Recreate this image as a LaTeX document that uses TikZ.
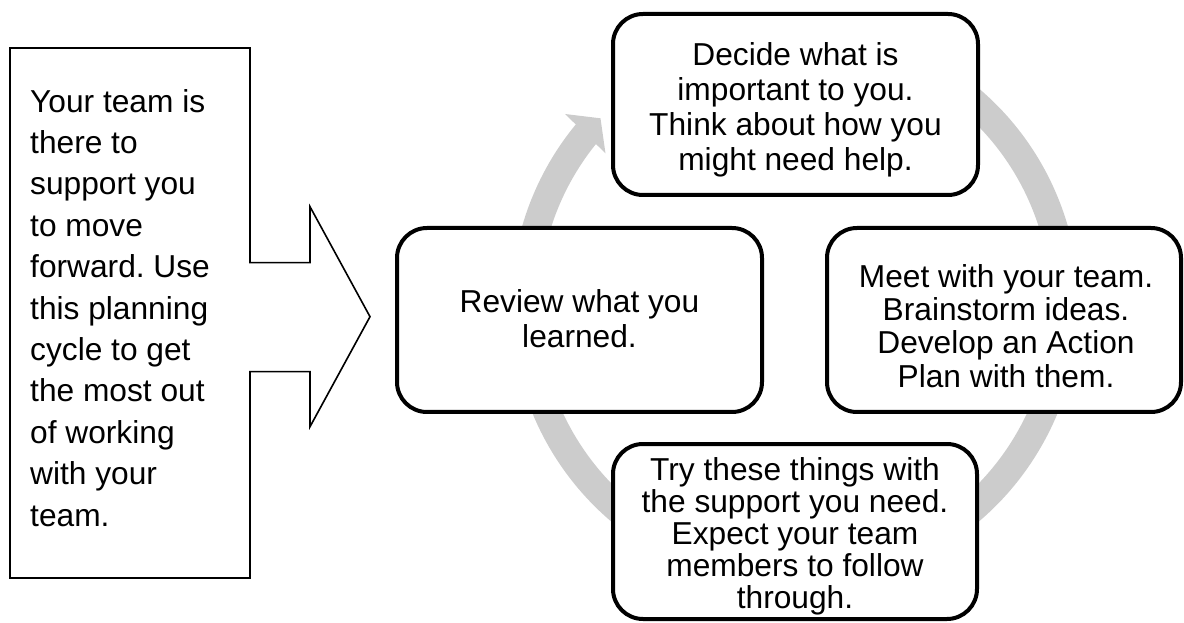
\documentclass[tikz,border=0pt]{standalone}
\usepackage{fontspec}
\setmainfont{Liberation Sans}
\definecolor{ringgray}{RGB}{204,204,204}
\frenchspacing
\begin{document}
\begin{tikzpicture}[x=1pt,y=1pt,
  cyclebox/.style={draw=black, line width=4pt, rounded corners=30pt, fill=white, inner sep=0pt},
  boxtext/.style={align=center, inner sep=0pt, anchor=north},
  ringarc/.style={draw=ringgray, line width=28pt},
  callout/.style={draw=black, line width=1.6pt, line join=miter}]
\useasboundingbox (0,0) rectangle (1184,622);

% grey cycle arrow
\coordinate (c) at (795,317);
\draw[ringarc] (c) ++(60:270) arc[start angle=60, end angle=-220, radius=270];
\fill[ringgray] (565,508) -- (600.5,503.7) -- (605.5,468.7) -- cycle;

% callout with arrow
\draw[callout] (10,574) -- (250,574) -- (250,359.3) -- (310,359.3) -- (310,415.3)
  -- (370,305.3) -- (310,195.3) -- (310,250.3) -- (250,250.3) -- (250,44) -- (10,44) -- cycle;
\node[anchor=north west, align=left, inner sep=0pt, font=\fontsize{31.7}{41.4}\selectfont] (intro) at (30,533)
  {Your team is\\there to\\support you\\to move\\forward. Use\\this planning\\cycle to get\\the most out\\of working\\with your\\team.};

% cycle boxes
\node[cyclebox, minimum width=365pt, minimum height=181pt] (decide) at (795.5,517.5) {};
\node[cyclebox, minimum width=365pt, minimum height=184pt] (review) at (579.5,302) {};
\node[cyclebox, minimum width=354pt, minimum height=184pt] (meet) at (1004,302) {};
\node[cyclebox, minimum width=364pt, minimum height=175pt] (try) at (795,90.5) {};

\node[boxtext, font=\fontsize{31.7}{35}\selectfont] (decidetext) at (795.5,580)
  {Decide what is\\important to you.\\Think about how you\\might need help.};
\node[boxtext, font=\fontsize{31.7}{35}\selectfont] (reviewtext) at (579.5,333)
  {Review what you\\learned.};
\node[boxtext, font=\fontsize{31.7}{33.3}\selectfont] (meettext) at (1006,358)
  {Meet with your team.\\Brainstorm ideas.\\Develop an Action\\Plan with them.};
\node[boxtext, font=\fontsize{31.7}{32}\selectfont] (trytext) at (795,165)
  {Try these things with\\the support you need.\\Expect your team\\members to follow\\through.};
\end{tikzpicture}
\end{document}
